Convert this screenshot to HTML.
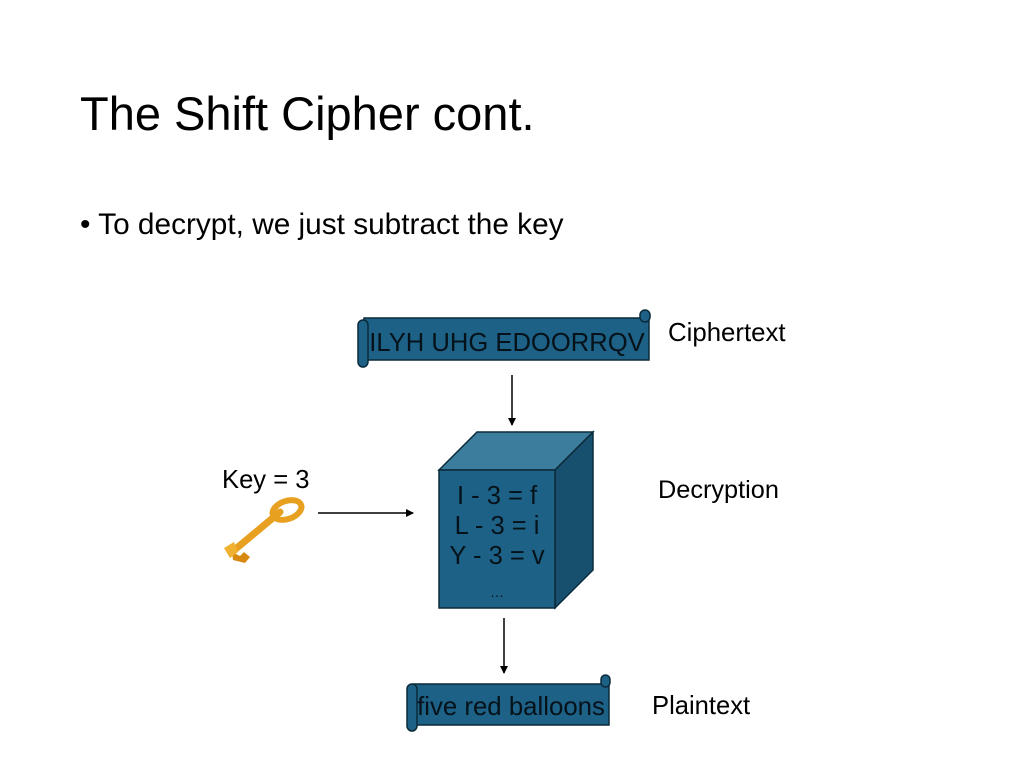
<!DOCTYPE html>
<html><head><meta charset="utf-8"><style>
body{margin:0;background:#fff;width:1024px;height:767px;overflow:hidden;font-family:"Liberation Sans",sans-serif}
svg{position:absolute;left:0;top:0}
</style></head><body>
<svg width="1024" height="767" viewBox="0 0 1024 767" font-family="Liberation Sans, sans-serif">
<defs><marker id="a" markerWidth="8" markerHeight="8" refX="7" refY="4" orient="auto" markerUnits="userSpaceOnUse"><path d="M0,0 L8,4 L0,8 Z" fill="#000"/></marker></defs>
<text x="80" y="130" font-size="47" fill="#000">The Shift Cipher cont.</text>
<text x="80" y="234" font-size="29.8" fill="#000">• To decrypt, we just subtract the key</text>
<!-- scroll 1 -->
<rect x="364" y="318" width="285" height="42" fill="#1d6186" stroke="#0b2a3a" stroke-width="1.5"/>
<rect x="358" y="320" width="10" height="47" rx="5" fill="#1d6186" stroke="#0b2a3a" stroke-width="1.5"/>
<rect x="640" y="310" width="10" height="12" rx="5" fill="#1d6186" stroke="#0b2a3a" stroke-width="1.5"/>
<text x="507" y="351" font-size="25.6" text-anchor="middle" fill="#06121a">ILYH UHG EDOORRQV</text>
<text x="668" y="341" font-size="25.8">Ciphertext</text>
<line x1="512" y1="375" x2="512" y2="425" stroke="#000" stroke-width="1.5" marker-end="url(#a)"/>
<!-- cube -->
<polygon points="439,470 477,432 593,432 555,470" fill="#3c7c9c" stroke="#0b2a3a" stroke-width="1.5"/>
<polygon points="555,470 593,432 593,570 555,608" fill="#17506e" stroke="#0b2a3a" stroke-width="1.5"/>
<rect x="439" y="470" width="116" height="138" fill="#1d6186" stroke="#0b2a3a" stroke-width="1.5"/>
<g font-size="25.5" text-anchor="middle" fill="#06121a">
<text x="497" y="504">I - 3 = f</text>
<text x="497" y="534">L - 3 = i</text>
<text x="497" y="564">Y - 3 = v</text>
<text x="497" y="597" font-size="14">…</text>
</g>
<text x="658" y="498" font-size="25.3">Decryption</text>
<text x="222" y="488" font-size="25.6">Key = 3</text>
<line x1="318" y1="513" x2="413" y2="513" stroke="#000" stroke-width="1.5" marker-end="url(#a)"/>
<!-- key -->
<g>
<line x1="232" y1="552" x2="280" y2="512" stroke="#e8a020" stroke-width="7" stroke-linecap="round"/>
<ellipse cx="287" cy="510" rx="15" ry="9" transform="rotate(-20 287 510)" fill="none" stroke="#e8a020" stroke-width="6"/>
<path d="M232,552 l8,4 l4,-4 l6,5 l-5,6 l-12,-3 z" fill="#d88a10"/>
<path d="M224,548 l10,-6 l4,10 l-8,6 z" fill="#f0b030"/>
</g>
<line x1="504" y1="618" x2="504" y2="673" stroke="#000" stroke-width="1.5" marker-end="url(#a)"/>
<!-- scroll 2 -->
<rect x="413" y="684" width="196" height="41" fill="#1d6186" stroke="#0b2a3a" stroke-width="1.5"/>
<rect x="407" y="684" width="10" height="47" rx="5" fill="#1d6186" stroke="#0b2a3a" stroke-width="1.5"/>
<rect x="601" y="675" width="9" height="12" rx="4.5" fill="#1d6186" stroke="#0b2a3a" stroke-width="1.5"/>
<text x="511" y="715" font-size="25.8" text-anchor="middle" fill="#06121a">five red balloons</text>
<text x="652" y="714" font-size="25.6">Plaintext</text>
</svg>
</body></html>
